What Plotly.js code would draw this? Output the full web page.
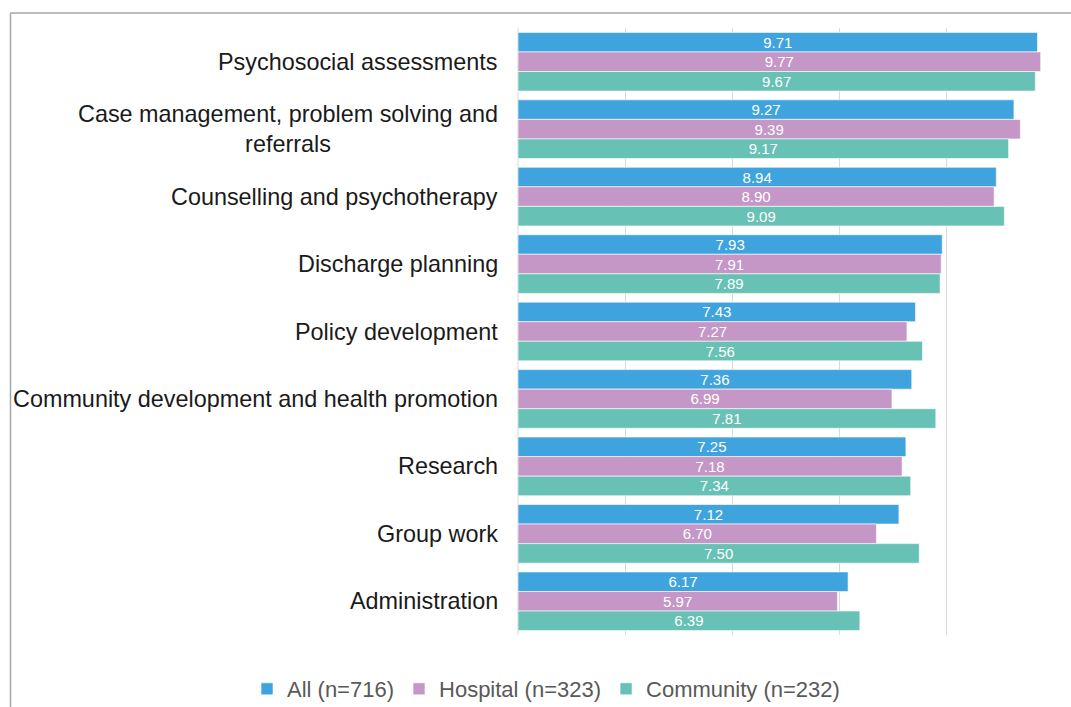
<!DOCTYPE html>
<html>
<head>
<meta charset="utf-8">
<script src="https://cdn.plot.ly/plotly-3.0.1.min.js"></script>
<style>html,body{margin:0;padding:0;background:#fff;}#chart{width:1071px;height:707px;}</style>
</head>
<body>
<div id="chart"></div>
<script>
const categories = [
  "Psychosocial assessments",
  "Case management, problem solving and<br>referrals",
  "Counselling and psychotherapy",
  "Discharge planning",
  "Policy development",
  "Community development and health promotion",
  "Research",
  "Group work",
  "Administration"
];
const seriesNames = ["All (n=716)", "Hospital (n=323)", "Community (n=232)"];
const allValues = [9.71, 9.27, 8.94, 7.93, 7.43, 7.36, 7.25, 7.12, 6.17];
const hospitalValues = [9.77, 9.39, 8.90, 7.91, 7.27, 6.99, 7.18, 6.70, 5.97];
const communityValues = [9.67, 9.17, 9.09, 7.89, 7.56, 7.81, 7.34, 7.50, 6.39];
const colors = ["#3fa4de", "#c597c7", "#68c1b5"];

const W = 1071, H = 707;
const L = 518, R = 18, T = 28, B = 72;
const pw = W - L - R, ph = H - T - B;
const px = x => (x - L) / pw;
const py = y => 1 - (y - T) / ph;

const seriesValues = [allValues, hospitalValues, communityValues];
const traces = seriesValues.map((vals, i) => ({
  type: "bar",
  orientation: "h",
  name: seriesNames[i],
  y: categories,
  x: vals,
  text: vals.map(v => v.toFixed(2)),
  textposition: "inside",
  insidetextanchor: "middle",
  constraintext: "none",
  textangle: 0,
  textfont: {family: "Liberation Sans, Arial, sans-serif", size: 15, color: "#ffffff"},
  marker: {color: colors[i], line: {color: "rgba(255,255,255,0.6)", width: 1}},
  hoverinfo: "x+name"
}));

const annotations = categories.map(c => ({
  x: 0, xref: "paper", xanchor: "right", xshift: -18,
  y: c, yref: "y", yanchor: "middle",
  text: c, showarrow: false, align: "center",
  font: {family: "Liberation Sans, Arial, sans-serif", size: 23.4, color: "#1a1a1a"}
}));

const layout = {
  width: W, height: H,
  margin: {l: L, r: R, t: T, b: B, pad: 0, autoexpand: false},
  paper_bgcolor: "#ffffff",
  plot_bgcolor: "#ffffff",
  barmode: "group",
  bargap: 0.13,
  bargroupgap: 0,
  xaxis: {
    range: [0, 10], dtick: 2, showticklabels: false, ticks: "",
    showgrid: true, gridcolor: "#d9d9d9", gridwidth: 1, zeroline: false, showline: false
  },
  yaxis: {
    type: "category", autorange: "reversed", showticklabels: false, ticks: "",
    showgrid: false, zeroline: false, showline: false
  },
  showlegend: true,
  legend: {
    orientation: "h", xref: "paper", yref: "paper",
    x: px(247), xanchor: "left", y: py(689), yanchor: "middle",
    font: {family: "Liberation Sans, Arial, sans-serif", size: 22, color: "#595959"},
    itemwidth: 30, traceorder: "normal"
  },
  annotations: annotations,
  shapes: [
    {type: "line", xref: "paper", yref: "paper", x0: px(10.5), x1: px(10.5), y0: py(13), y1: py(720),
     line: {color: "#a6a6a6", width: 1.5}},
    {type: "line", xref: "paper", yref: "paper", x0: px(10.5), x1: px(1080), y0: py(13), y1: py(13),
     line: {color: "#a6a6a6", width: 1.5}},
    {type: "line", xref: "paper", yref: "paper", x0: 0, x1: 0, y0: 0, y1: 1,
     line: {color: "#d9d9d9", width: 1}, layer: "below"}
  ]
};

Plotly.newPlot("chart", traces, layout, {displayModeBar: false, staticPlot: true});
</script>
</body>
</html>
